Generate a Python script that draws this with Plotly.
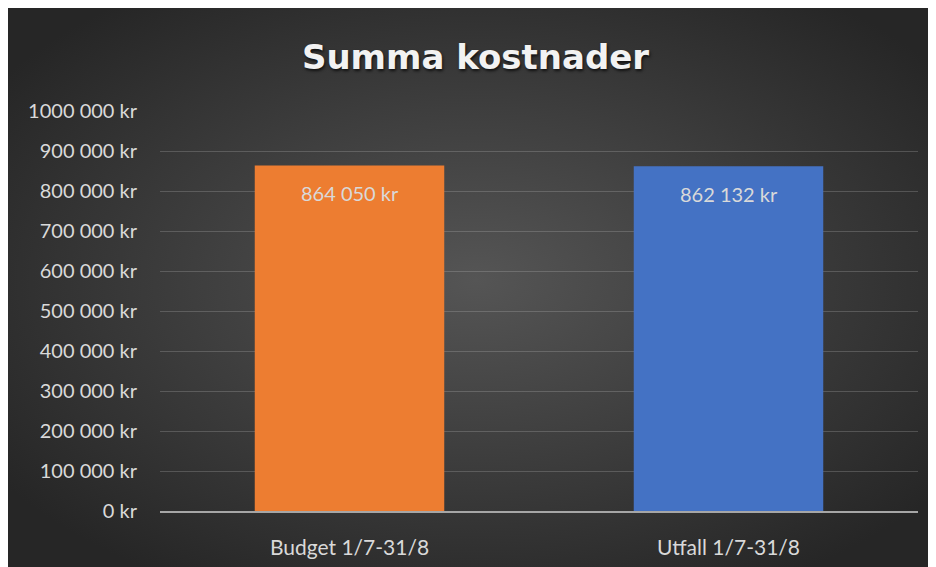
import plotly.graph_objects as go
import base64

categories = ["Budget 1/7-31/8", "Utfall 1/7-31/8"]
values = [864050, 862132]
value_labels = ["864 050 kr", "862 132 kr"]
bar_colors = ["#ED7D31", "#4472C4"]
tick_vals = [0, 100000, 200000, 300000, 400000, 500000, 600000, 700000, 800000, 900000, 1000000]
tick_text = ["0 kr", "100 000 kr", "200 000 kr", "300 000 kr", "400 000 kr", "500 000 kr",
             "600 000 kr", "700 000 kr", "800 000 kr", "900 000 kr", "1000 000 kr"]

W, H = 936, 567
L, R, T, B = 152, 26, 103, 64
pw, ph = W - L - R, H - T - B

svg = ('<svg xmlns="http://www.w3.org/2000/svg" width="936" height="567">'
       '<defs><radialGradient id="g" cx="50%" cy="48%" r="62%">'
       '<stop offset="0" stop-color="#555555"/><stop offset="1" stop-color="#262626"/>'
       '</radialGradient></defs><rect width="936" height="567" fill="url(#g)"/></svg>')
bg_uri = "data:image/svg+xml;base64," + base64.b64encode(svg.encode()).decode()

fig = go.Figure()
fig.add_trace(go.Bar(
    x=categories, y=values, marker=dict(color=bar_colors, line=dict(width=0)),
    hoverinfo="skip", showlegend=False,
))

for c, v, t in zip(categories, values, value_labels):
    fig.add_annotation(x=c, y=v, text=t, showarrow=False, yanchor="middle", yshift=-28,
                       font=dict(family="Lato", size=20, color="#d9d9d9"))

fig.add_layout_image(
    source=bg_uri, xref="paper", yref="paper",
    x=-L / pw, y=(H - B) / ph,
    sizex=W / pw, sizey=H / ph,
    xanchor="left", yanchor="top", sizing="stretch", layer="below",
)

fig.update_layout(
    width=W, height=H,
    margin=dict(l=L, r=R, t=T, b=B),
    paper_bgcolor="#262626", plot_bgcolor="rgba(0,0,0,0)",
    bargap=0.5,
    title=dict(text="Summa kostnader", x=467.5 / W, xanchor="center",
               y=1 - 49 / H, yanchor="middle", yref="container",
               font=dict(family="DejaVu Sans", size=34, color="#f2f2f2", weight="bold",
                         shadow="1px 2px 3px rgba(0,0,0,0.7)")),
    xaxis=dict(showgrid=False, showline=True, linecolor="#a6a6a6", linewidth=1.5,
               ticks="", ticklabelstandoff=17,
               tickfont=dict(family="Lato", size=21, color="#d9d9d9")),
    yaxis=dict(range=[0, 1000000], tickvals=tick_vals, ticktext=tick_text,
               showgrid=True, gridcolor="rgba(200,200,200,0.24)", gridwidth=1,
               zeroline=False, showline=False, ticks="", ticklabelstandoff=22,
               tickfont=dict(family="Lato", size=20, color="#d9d9d9")),
)

fig.write_html("out.html", post_script="document.documentElement.style.overflow='hidden';document.body.style.overflow='hidden';")
